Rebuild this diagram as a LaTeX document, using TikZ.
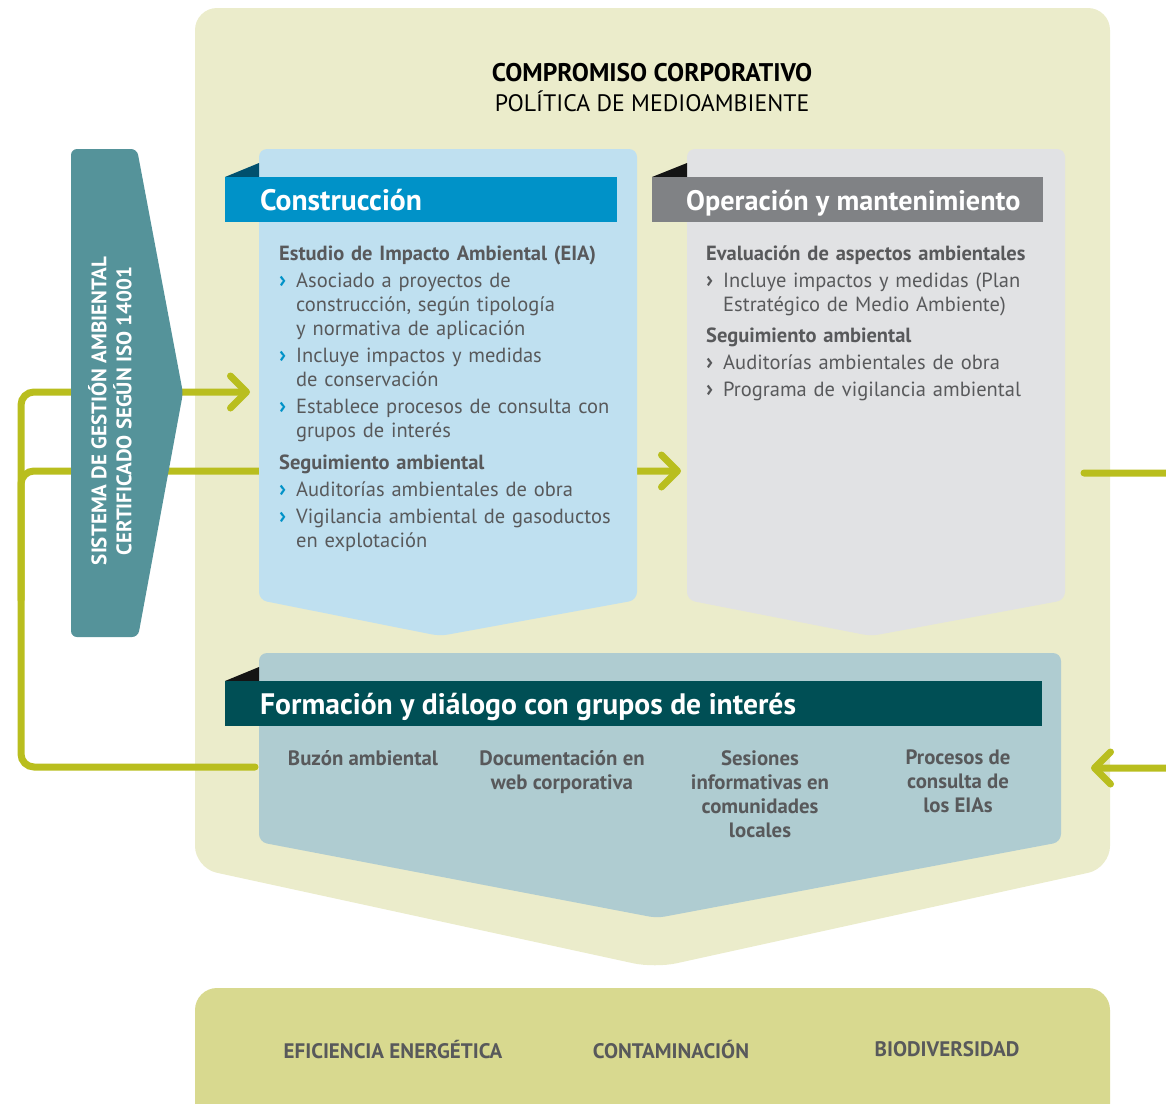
\documentclass[tikz,border=0pt]{standalone}
\usepackage{fontspec}
\setmainfont{PT Sans}
\usetikzlibrary{arrows.meta,positioning}
\definecolor{panelBeige}{RGB}{235,236,203}
\definecolor{bottomOlive}{RGB}{216,217,143}
\definecolor{sgaTeal}{RGB}{85,147,154}
\definecolor{constrLight}{RGB}{191,224,240}
\definecolor{constrBar}{RGB}{0,146,200}
\definecolor{constrFold}{RGB}{0,80,110}
\definecolor{operLight}{RGB}{225,226,228}
\definecolor{operBar}{RGB}{128,130,133}
\definecolor{formLight}{RGB}{175,204,209}
\definecolor{formBar}{RGB}{0,79,85}
\definecolor{foldDark}{RGB}{20,20,20}
\definecolor{oliveLine}{RGB}{185,190,30}
\definecolor{textGray}{RGB}{88,89,91}

\newcommand{\bodysetup}{\setlength{\parskip}{3pt}\setlength{\parindent}{0pt}}
\newcommand{\bulC}[1]{\par\hangindent=17pt\hangafter=1\noindent\makebox[17pt][l]{\textcolor{constrBar}{\bfseries\fontsize{23}{24}\selectfont ›}}#1}
\newcommand{\bulO}[1]{\par\hangindent=17pt\hangafter=1\noindent\makebox[17pt][l]{\textcolor{textGray}{\bfseries\fontsize{23}{24}\selectfont ›}}#1}

\tikzset{
  flow/.style={draw=oliveLine, line width=7pt, line cap=round, rounded corners=13pt,
    -{Straight Barb[length=16pt,width=32pt,round]}},
  bartext/.style={anchor=base west, text=white, inner sep=0pt,
    font=\bfseries\fontsize{29.6}{32}\selectfont},
  bodytext/.style={anchor=north west, text=textGray, align=left, inner sep=0pt,
    font=\fontsize{20.5}{24}\selectfont},
  itemtext/.style={anchor=north, text=textGray, align=center, inner sep=0pt,
    font=\bfseries\fontsize{20.8}{24}\selectfont},
  bottomtext/.style={text=textGray, inner sep=0pt,
    font=\bfseries\fontsize{21}{24}\selectfont},
  sgatext/.style={text=white, align=center, inner sep=0pt, rotate=90,
    font=\bfseries\fontsize{21}{25}\selectfont}
}

\begin{document}
\begin{tikzpicture}[x=1pt,y=-1pt]
  \useasboundingbox (0,0) rectangle (1166,1103);
  \clip (0,0) rectangle (1166,1103);

  % fondo general y franja inferior
  \fill[panelBeige, rounded corners=22pt] (195,8) -- (1110,8) -- (1110,868) -- (655,968) -- (195,868) -- cycle;
  \fill[bottomOlive, rounded corners=22pt] (195,988) rectangle (1110,1140);

  \node[font=\bfseries\fontsize{25.5}{28}\selectfont] (compTitle) at (652,73) {COMPROMISO CORPORATIVO};
  \node[font=\fontsize{23.8}{28}\selectfont] (polTitle) at (652,101) {POLÍTICA DE MEDIOAMBIENTE};

  % puntos de conexion
  \coordinate (constrIn) at (250,392);
  \coordinate (operIn) at (681,471);
  \coordinate (operOut) at (1084,473);
  \coordinate (formW) at (255,767);
  \coordinate (formE) at (1091,768);
  \coordinate (loopL) at (21,600);
  \coordinate (loopR) at (1180,620);

  % flechas del ciclo
  \draw[flow] (formW) -| (loopL) |- (constrIn);
  \draw[flow] (loopL) |- (operIn);
  \draw[flow] (operOut) -| (loopR) |- (formE);

  % sistema de gestion
  \fill[sgaTeal, rounded corners=6pt] (71,149) -- (137,149) -- (183,393) -- (138,637) -- (71,637) -- cycle;
  \node[sgatext] (sgaText) at (110,411) {SISTEMA DE GESTIÓN AMBIENTAL\\CERTIFICADO SEGÚN ISO 14001};

  % paneles
  \fill[constrLight, rounded corners=8pt] (259,149) -- (637,149) -- (637,600) -- (440,636) -- (259,600) -- cycle;
  \fill[operLight, rounded corners=8pt] (687,149) -- (1065,149) -- (1065,600) -- (871,636) -- (687,600) -- cycle;
  \fill[formLight, rounded corners=8pt] (259,653) -- (1061,653) -- (1061,842) -- (657,918) -- (259,842) -- cycle;

  % cabeceras
  \fill[constrFold] (225,177) -- (259,163) -- (259,177) -- cycle;
  \fill[constrBar] (225,177) rectangle (617,222);
  \node[bartext] (constrTitle) at (260,210) {Construcción};

  \fill[foldDark] (652,177) -- (687,163) -- (687,177) -- cycle;
  \fill[operBar] (652,177) rectangle (1043,222);
  \node[bartext, font=\bfseries\fontsize{28.2}{32}\selectfont] (operTitle) at (686,210) {Operación y mantenimiento};

  \fill[foldDark] (225,681) -- (259,667) -- (259,681) -- cycle;
  \fill[formBar] (225,681) rectangle (1042,726);
  \node[bartext] (formTitle) at (260,714) {Formación y diálogo con grupos de interés};

  % textos
  \node[bodytext, text width=350pt] (constrText) at (279,246) {\bodysetup
    \textbf{Estudio de Impacto Ambiental (EIA)}
    \bulC{Asociado a proyectos de\newline construcción, según tipología\newline y normativa de aplicación}
    \bulC{Incluye impactos y medidas\newline de conservación}
    \bulC{Establece procesos de consulta con\newline grupos de interés}
    \par\vspace{5pt}\textbf{Seguimiento ambiental}
    \bulC{Auditorías ambientales de obra}
    \bulC{Vigilancia ambiental de gasoductos\newline en explotación}\par};

  \node[bodytext, text width=350pt] (operText) at (706,246) {\bodysetup
    \textbf{Evaluación de aspectos ambientales}
    \bulO{Incluye impactos y medidas (Plan\newline Estratégico de Medio Ambiente)}
    \par\vspace{4pt}\textbf{Seguimiento ambiental}
    \bulO{Auditorías ambientales de obra}
    \bulO{Programa de vigilancia ambiental}\par};

  \node[itemtext] (buzon) at (363,750) {Buzón ambiental};
  \node[itemtext] (webDoc) at (562,750) {Documentación en\\web corporativa};
  \node[itemtext] (sesiones) at (760,750) {Sesiones\\informativas en\\comunidades\\locales};
  \node[itemtext] (consultas) at (958,750) {Procesos de\\consulta de\\los EIAs};

  \node[bottomtext] (eficiencia) at (393,1049) {EFICIENCIA ENERGÉTICA};
  \node[bottomtext] (contam) at (671,1049) {CONTAMINACIÓN};
  \node[bottomtext] (biodiv) at (947,1049) {BIODIVERSIDAD};
\end{tikzpicture}
\end{document}
